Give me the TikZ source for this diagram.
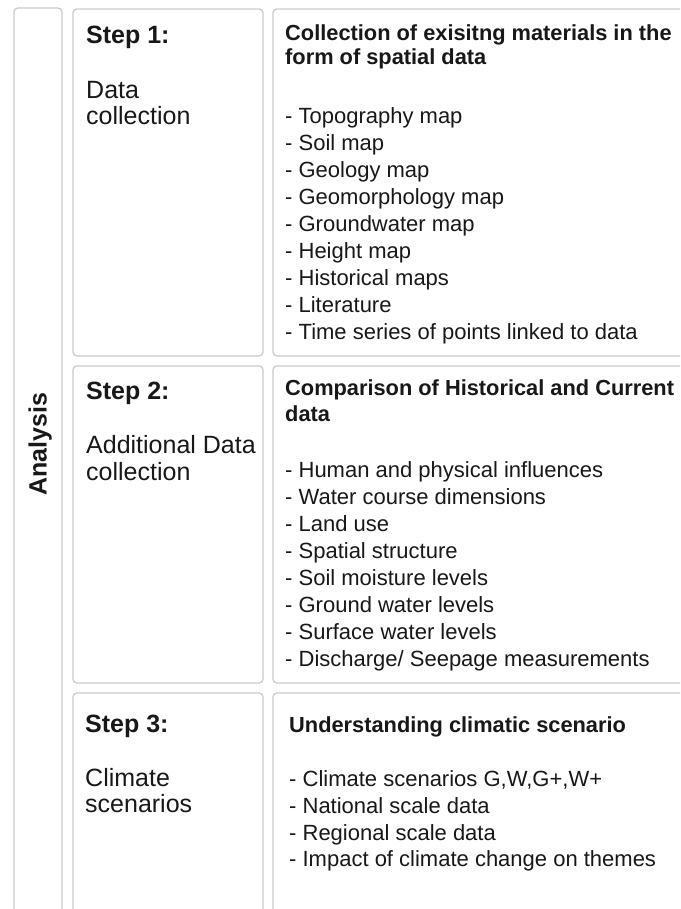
\documentclass[tikz,border=0pt]{standalone}
\usepackage{fontspec}
\setmainfont{Liberation Sans}
\definecolor{boxgray}{RGB}{204,204,204}
\definecolor{ink}{RGB}{24,24,24}
\begin{document}
\begin{tikzpicture}[x=1pt,y=-1pt,
  box/.style={draw=boxgray, line width=1.3pt, rounded corners=4pt},
  item/.style={anchor=base west, inner sep=0pt, font=\fontsize{22}{27}\selectfont, text=ink},
  head/.style={anchor=base west, inner sep=0pt, font=\fontsize{21.8}{25}\selectfont\bfseries, text=ink},
  steplbl/.style={anchor=base west, inner sep=0pt, font=\fontsize{25}{26}\selectfont\bfseries, text=ink},
  stepname/.style={anchor=base west, inner sep=0pt, font=\fontsize{25}{26}\selectfont, text=ink}]
\useasboundingbox (0,0) rectangle (680,909);
\clip (0,0) rectangle (680,909);
\fill[white] (0,0) rectangle (680,909);

% Analysis column
\draw[box] (14,8) rectangle (62,940);
\node[anchor=base, rotate=90, inner sep=0pt, font=\fontsize{25}{26}\selectfont\bfseries, text=ink] (analysis) at (46.5,444) {Analysis};

% Step boxes
\draw[box] (73,9) rectangle (263,356);
\draw[box] (273,9) rectangle (720,356);
\draw[box] (73,366) rectangle (263,683);
\draw[box] (273,366) rectangle (720,683);
\draw[box] (73,693) rectangle (263,940);
\draw[box] (273,693) rectangle (720,940);

% Step 1
\node[steplbl] (s1) at (86,44) {Step 1:};
\node[stepname] (s1a) at (86,99) {Data};
\node[stepname] (s1b) at (86,125) {collection};
\node[head] (h1a) at (285,41) {Collection of exisitng materials in the};
\node[head] (h1b) at (285,65) {form of spatial data};
\foreach \t [count=\i from 0] in {Topography map, Soil map, Geology map, Geomorphology map, Groundwater map, Height map, Historical maps, Literature, Time series of points linked to data}
  \node[item] (i1-\i) at (285,124+26.9*\i) {- \t};

% Step 2
\node[steplbl] (s2) at (86,399) {Step 2:};
\node[stepname] (s2a) at (86,453) {Additional Data};
\node[stepname] (s2b) at (86,480) {collection};
\node[head] (h2a) at (285,395) {Comparison of Historical and Current};
\node[head] (h2b) at (285,421) {data};
\foreach \t [count=\i from 0] in {Human and physical influences, Water course dimensions, Land use, Spatial structure, Soil moisture levels, Ground water levels, Surface water levels, Discharge/ Seepage measurements}
  \node[item] (i2-\i) at (285,477+27.1*\i) {- \t};

% Step 3
\node[steplbl] (s3) at (85,732) {Step 3:};
\node[stepname] (s3a) at (85,786) {Climate};
\node[stepname] (s3b) at (85,812) {scenarios};
\node[head] (h3) at (289,732) {Understanding climatic scenario};
\foreach \t [count=\i from 0] in {{Climate scenarios G,W,G+,W+}, National scale data, Regional scale data, Impact of climate change on themes}
  \node[item] (i3-\i) at (289,786.7+26.7*\i) {- \t};
\end{tikzpicture}
\end{document}
